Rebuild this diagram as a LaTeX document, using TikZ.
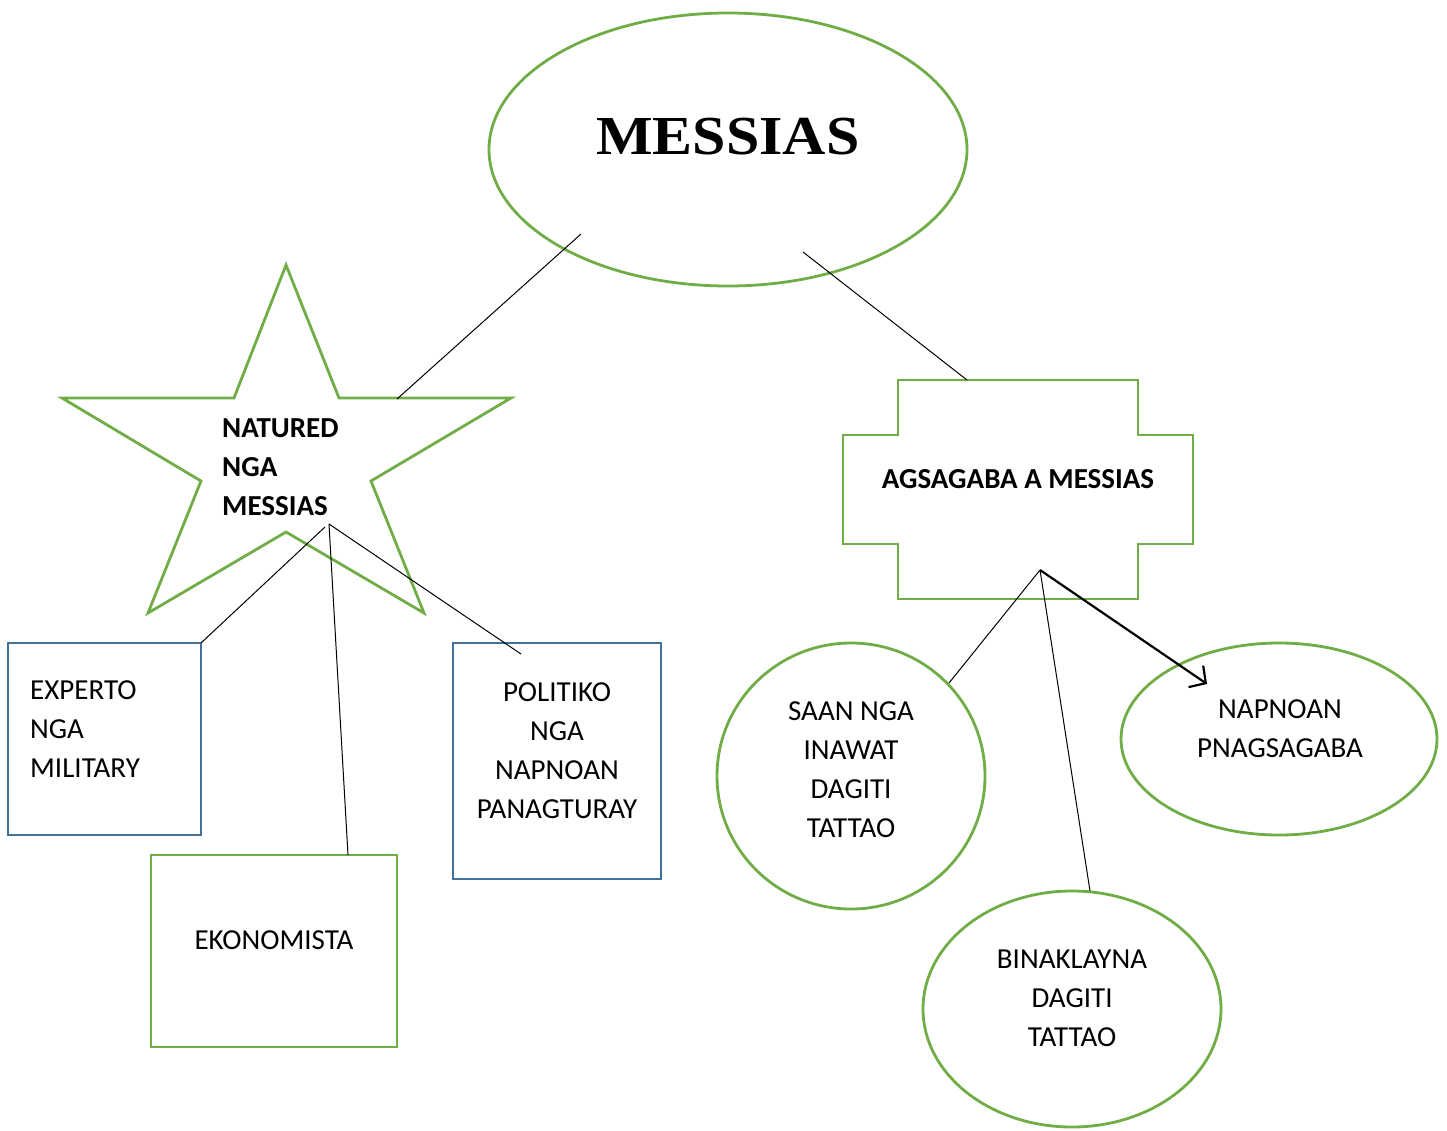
\documentclass[tikz,border=0pt]{standalone}
\usepackage{fontspec}
\setmainfont{Carlito}
\newfontfamily\titlefont{Liberation Serif}
\usetikzlibrary{arrows.meta,shapes.geometric}
\definecolor{grn}{RGB}{112,173,71}
\definecolor{blu}{RGB}{65,113,156}
\begin{document}
\begin{tikzpicture}[x=1pt,y=-1pt,
  gshape/.style={draw=grn,line width=2.8pt},
  bbox/.style={draw=blu,line width=2.5pt,inner sep=0pt},
  gbox/.style={draw=grn,line width=2.8pt,inner sep=0pt},
  gell/.style={ellipse,draw=grn,line width=2.8pt,inner sep=0pt},
  txt/.style={inner sep=0pt,font=\fontsize{29}{39}\selectfont,align=center},
  btxt/.style={inner sep=0pt,font=\fontsize{29}{39}\selectfont\bfseries},
  conn/.style={black,line width=1pt},
  arr/.style={black,line width=2.2pt,-{Straight Barb[length=12pt,width=26pt,line width=2.2pt]}}]
\useasboundingbox (0,0) rectangle (1447,1130);

% main ellipse
\node[gell, minimum width=478pt, minimum height=273pt] (top) at (728,149.5) {};
\node[inner sep=0pt] (toptxt) at (728,137) {\titlefont\fontsize{55}{60}\selectfont\bfseries\scalebox{1.09}[1]{MESSIAS}};

% star
\draw[gshape] (286,265) -- (339,398) -- (511,398) -- (371,481) -- (424,613) -- (286,532)
  -- (148,613) -- (201,481) -- (62,398) -- (234,398) -- cycle;
\node[btxt, align=left, anchor=west] (star) at (222,467) {NATURED\\NGA\\MESSIAS};

% cross shape
\draw[gshape] (898,380) -- (1138,380) -- (1138,435) -- (1193,435) -- (1193,544) -- (1138,544)
  -- (1138,599) -- (898,599) -- (898,544) -- (843,544) -- (843,435) -- (898,435) -- cycle;
\node[btxt] (cross) at (1018,479) {AGSAGABA A MESSIAS};

% boxes
\node[bbox, minimum width=193pt, minimum height=192pt] (exp) at (104.5,739) {};
\node[txt, align=left, anchor=west] (exptxt) at (30,729) {EXPERTO\\NGA\\MILITARY};
\node[gbox, minimum width=246pt, minimum height=192pt] (eko) at (274,951) {};
\node[txt] (ekotxt) at (274,940) {EKONOMISTA};
\node[bbox, minimum width=208pt, minimum height=236pt] (pol) at (557,761) {};
\node[txt] (poltxt) at (557,750.5) {POLITIKO\\NGA\\NAPNOAN\\PANAGTURAY};

% ellipses
\node[gell, minimum width=268pt, minimum height=266pt] (saan) at (851,776) {};
\node[txt] (saantxt) at (851,770) {SAAN NGA\\INAWAT\\DAGITI\\TATTAO};
\node[gell, minimum width=316pt, minimum height=192pt] (nap) at (1279,739) {};
\node[txt] (naptxt) at (1280,728.5) {NAPNOAN\\PNAGSAGABA};
\node[gell, minimum width=298pt, minimum height=236pt] (bin) at (1072,1009) {};
\node[txt] (bintxt) at (1072,998.5) {BINAKLAYNA\\DAGITI\\TATTAO};

% connector end points
\coordinate (t1) at (581,234);
\coordinate (s1) at (397,399);
\coordinate (t2) at (803,252);
\coordinate (c1) at (967,380);
\coordinate (sa) at (325,527);
\coordinate (sb) at (329,524);
\coordinate (e1) at (201,643);
\coordinate (k1) at (348,855);
\coordinate (p1) at (521,654);
\coordinate (cr) at (1040,570);
\coordinate (sn) at (949,683);
\coordinate (bn) at (1090,891);
\coordinate (nn) at (1207,684);

\draw[conn] (t1) -- (s1);
\draw[conn] (t2) -- (c1);
\draw[conn] (sa) -- (e1);
\draw[conn] (sb) -- (k1);
\draw[conn] (sb) -- (p1);
\draw[conn] (cr) -- (sn);
\draw[conn] (cr) -- (bn);
\draw[arr] (cr) -- (nn);
\end{tikzpicture}
\end{document}
